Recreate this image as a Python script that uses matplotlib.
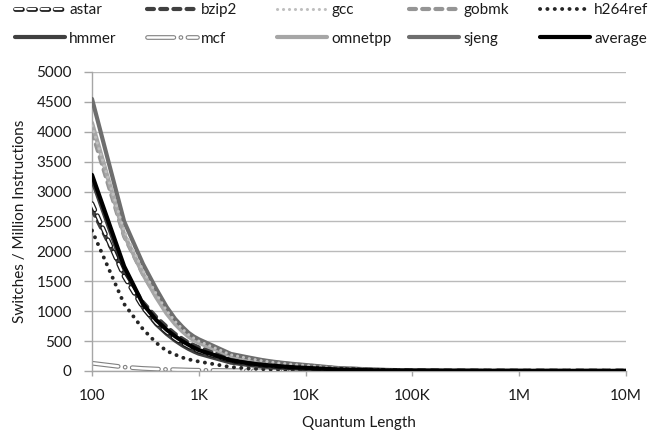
import matplotlib
matplotlib.use("Agg")
import matplotlib.pyplot as plt
import matplotlib.patheffects as pe
from matplotlib.ticker import FixedLocator, FixedFormatter, NullLocator

plt.rcParams['font.family'] = ['Lato', 'DejaVu Sans']
plt.rcParams['lines.scale_dashes'] = False

quantum = [100, 200, 300, 400, 500, 600, 700, 800, 900,
           1e3, 2e3, 3e3, 4e3, 5e3, 6e3, 7e3, 8e3, 9e3,
           1e4, 2e4, 5e4, 1e5, 2e5, 5e5, 1e6, 2e6, 5e6, 1e7]

astar   = [2800, 1580, 1060, 800, 650, 540, 465, 410, 365, 330, 170, 122, 96, 80, 69, 61, 55, 50,
           46, 23, 9, 4.5, 2.3, 0.9, 0.45, 0.23, 0.09, 0.05]
bzip2   = [2700, 1620, 1150, 900, 740, 620, 540, 475, 430, 395, 220, 165, 135, 116, 103, 93, 85, 79,
           74, 37, 15, 7.5, 3.7, 1.5, 0.75, 0.4, 0.15, 0.08]
gcc     = [4100, 2350, 1680, 1290, 1010, 830, 705, 610, 548, 500, 270, 205, 168, 144, 128, 116, 106, 99,
           93, 46, 19, 9.5, 4.7, 1.9, 1, 0.5, 0.2, 0.1]
gobmk   = [4000, 2250, 1620, 1250, 990, 815, 695, 605, 545, 495, 275, 210, 172, 148, 131, 119, 109, 101,
           95, 47, 19, 9.5, 4.8, 1.9, 1, 0.5, 0.2, 0.1]
h264ref = [2350, 1120, 700, 470, 335, 275, 225, 195, 175, 158, 65, 42, 30, 24, 20, 17, 15, 13,
           12, 5, 2, 1, 0.5, 0.2, 0.1, 0.05, 0.02, 0.01]
hmmer   = [3200, 1680, 1060, 780, 620, 510, 430, 370, 325, 290, 140, 98, 76, 63, 54, 47, 42, 38,
           35, 17, 7, 3.5, 1.7, 0.7, 0.35, 0.17, 0.07, 0.04]
mcf     = [130, 65, 43, 33, 26, 22, 19, 16, 14, 13, 6.5, 4.3, 3.3, 2.6, 2.2, 1.9, 1.6, 1.4,
           1.3, 0.65, 0.26, 0.13, 0.07, 0.03, 0.01, 0.01, 0, 0]
omnetpp = [4150, 2280, 1620, 1230, 960, 785, 665, 575, 515, 472, 255, 195, 160, 137, 122, 110, 101, 94,
           88, 44, 18, 9, 4.5, 1.8, 0.9, 0.45, 0.18, 0.09]
sjeng   = [4550, 2500, 1790, 1370, 1070, 870, 740, 640, 575, 530, 285, 222, 180, 155, 138, 125, 115, 107,
           100, 50, 20, 10, 5, 2, 1, 0.5, 0.2, 0.1]
average = [3280, 1750, 1120, 850, 690, 580, 500, 440, 390, 350, 178, 128, 102, 88, 76, 67, 60, 56,
           52, 26, 10, 5, 2.5, 1, 0.5, 0.25, 0.1, 0.05]

x_ticks = [100, 1e3, 1e4, 1e5, 1e6, 1e7]
x_tick_labels = ["100", "1K", "10K", "100K", "1M", "10M"]
y_ticks = [0, 500, 1000, 1500, 2000, 2500, 3000, 3500, 4000, 4500, 5000]

FS = 11
TXT = '#1a1a1a'

fig = plt.figure(figsize=(6.57, 4.37), dpi=100)
ax = fig.add_axes([92/657, 1-371/437, (626-92)/657, (371-72)/437])

def outline(c, w):
    return [pe.Stroke(linewidth=w, foreground=c), pe.Normal()]

series = {}
series['mcf'] = ax.plot(quantum, mcf, color='white', lw=1.8, dashes=(19, 5, 0.1, 5),
                        dash_capstyle='round', path_effects=outline('#808080', 3.4), label='mcf', zorder=2)[0]
series['h264ref'] = ax.plot(quantum, h264ref, color='#262626', lw=2.8, dashes=(0.1, 5.2),
                            dash_capstyle='round', label='h264ref', zorder=3)[0]
series['bzip2'] = ax.plot(quantum, bzip2, color='#404040', lw=3, dashes=(5, 4.5),
                          dash_capstyle='round', label='bzip2', zorder=3)[0]
series['hmmer'] = ax.plot(quantum, hmmer, color='#404040', lw=3, solid_capstyle='round', label='hmmer', zorder=3)[0]
series['astar'] = ax.plot(quantum, astar, color='white', lw=1.6, dashes=(5, 4.5),
                          dash_capstyle='round', path_effects=outline('#1a1a1a', 3.4), label='astar', zorder=4)[0]
series['gobmk'] = ax.plot(quantum, gobmk, color='#959595', lw=3, dashes=(5, 4.5),
                          dash_capstyle='round', label='gobmk', zorder=3)[0]
series['omnetpp'] = ax.plot(quantum, omnetpp, color='#a6a6a6', lw=3, solid_capstyle='round', label='omnetpp', zorder=3)[0]
series['sjeng'] = ax.plot(quantum, sjeng, color='#6e6e6e', lw=3, solid_capstyle='round', label='sjeng', zorder=3)[0]
series['gcc'] = ax.plot(quantum, gcc, color='#bfbfbf', lw=2.2, dashes=(0.1, 4.2),
                        dash_capstyle='round', label='gcc', zorder=4)[0]
series['average'] = ax.plot(quantum, average, color='black', lw=3, solid_capstyle='round', label='average', zorder=5)[0]

ax.set_xscale('log')
ax.set_xlim(100, 1e7)
ax.set_ylim(0, 5000)
ax.xaxis.set_major_locator(FixedLocator(x_ticks))
ax.xaxis.set_major_formatter(FixedFormatter(x_tick_labels))
ax.xaxis.set_minor_locator(NullLocator())
ax.set_yticks(y_ticks)
ax.grid(axis='y', color='#bababa', lw=1)
ax.set_axisbelow(True)
for s in ['top', 'right']:
    ax.spines[s].set_visible(False)
for s in ['left', 'bottom']:
    ax.spines[s].set_color('#a6a6a6')
    ax.spines[s].set_linewidth(1)
ax.tick_params(axis='both', colors='#a6a6a6', labelcolor=TXT, labelsize=FS, width=1)
ax.tick_params(axis='x', length=3.6, pad=9)
ax.tick_params(axis='y', length=5.5, pad=9)
ax.set_xlabel('Quantum Length', fontsize=FS, color=TXT, labelpad=10)
ax.set_ylabel('Switches / Million Instructions', fontsize=FS, color=TXT, labelpad=7)

columns = [('astar', 'hmmer'), ('bzip2', 'mcf'), ('gcc', 'omnetpp'), ('gobmk', 'sjeng'), ('h264ref', 'average')]
col_x = [15, 147, 277, 409, 540]
for (a, b), cx in zip(columns, col_x):
    leg = fig.legend([series[a], series[b]], [a, b], loc='upper left',
                     bbox_to_anchor=(cx/657, 1-3/437), frameon=False, fontsize=FS,
                     handlelength=3.3, handletextpad=0.25, labelspacing=0.95,
                     borderpad=0, borderaxespad=0)
    for t in leg.get_texts():
        t.set_color(TXT)

fig.savefig('out.png', dpi=100)
